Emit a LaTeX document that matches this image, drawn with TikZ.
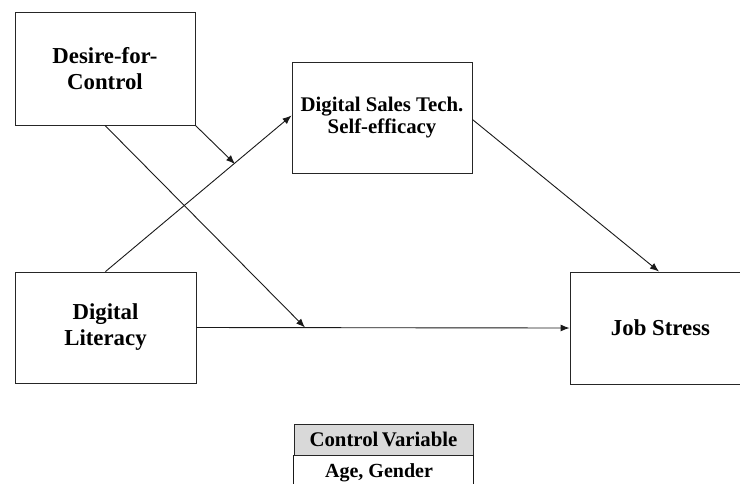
\documentclass[tikz,border=0pt]{standalone}
\usepackage{fontspec}
\setmainfont{Liberation Serif}
\usetikzlibrary{arrows.meta}
\begin{document}
\begin{tikzpicture}[x=1pt,y=-1pt,
  box/.style={draw=black!85,line width=0.9pt,fill=white,align=center,inner sep=0pt,
    font=\fontsize{22.8}{26}\selectfont\bfseries},
  conn/.style={draw=black!90,line width=0.9pt,-{Latex[length=9pt,width=7pt]}},
  plain/.style={draw=black!90,line width=0.9pt}]
\useasboundingbox (0,0) rectangle (740,483);
\clip (0,0) rectangle (740,483);
\node[box,minimum width=180pt,minimum height=113pt] (dfc) at (105,68.5) {Desire-for-\\Control};
\node[box,minimum width=180pt,minimum height=111pt,font=\fontsize{20.8}{22.5}\selectfont\bfseries] (dst) at (382,117.5) {Digital Sales Tech.\\Self-efficacy};
\node[box,minimum width=181pt,minimum height=111pt] (dl) at (105.5,327.5) {Digital\\Literacy};
\node[box,minimum width=181pt,minimum height=112pt] (js) at (660.5,328) {Job Stress};
% control variable table
\node[draw=black!85,line width=0.9pt,fill=black!15,minimum width=179pt,minimum height=31pt,inner sep=0pt,
  font=\fontsize{20.8}{22}\selectfont\bfseries] (cv) at (383.5,439.5) {Control\,Variable};
\node[inner sep=0pt,font=\fontsize{20}{22}\selectfont\bfseries,anchor=base] (ag) at (379,477) {Age, Gender};
\draw[plain] (cv.south west) -- ++(0,40);
\draw[plain] (cv.south east) -- ++(0,40);
% connectors
\coordinate (m1) at (235,164);
\coordinate (m2) at (305,327.5);
\draw[conn] (dl.north) -- ([yshift=2pt]dst.west);
\draw[conn] (dfc.south east) -- (m1);
\draw[conn] (dfc.south) -- (m2);
\draw[conn] (dl.east) -- (js.west);
\draw[conn] ([yshift=-2pt]dst.east) -- ([xshift=-1.5pt]js.north);
\end{tikzpicture}
\end{document}
